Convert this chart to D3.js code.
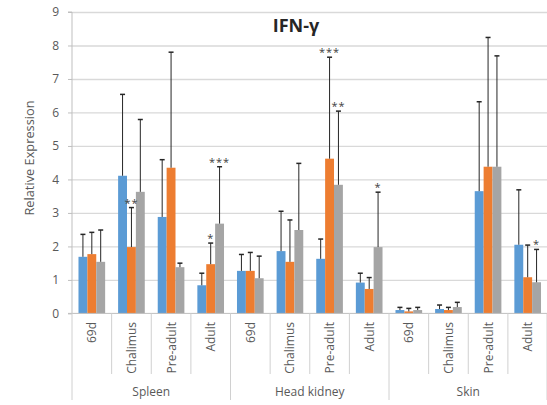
<!DOCTYPE html>
<html>
<head>
<meta charset="utf-8">
<script src="https://cdn.jsdelivr.net/npm/d3@7"></script>
<style>
  html, body { margin: 0; padding: 0; background: #fff; }
  svg { display: block; font-family: "Open Sans", "Liberation Sans", sans-serif; }
</style>
</head>
<body>
<svg id="chart" width="547" height="405"></svg>
<script>
// ---- data ----
const title = "IFN-γ";
const yTitle = "Relative Expression";
const groups = ["Spleen", "Head kidney", "Skin"];
const stages = ["69d", "Chalimus", "Pre-adult", "Adult"];
const yTicks = [0, 1, 2, 3, 4, 5, 6, 7, 8, 9];
const seriesNames = ["Series 1", "Series 2", "Series 3"];
const seriesColors = ["#5B9BD5", "#ED7D31", "#A5A5A5"];

const blueValues   = [1.69, 4.11, 2.88, 0.84, 1.27, 1.86, 1.63, 0.92, 0.10, 0.13, 3.65, 2.05];
const blueErrors   = [0.67, 2.43, 1.71, 0.36, 0.49, 1.19, 0.59, 0.28, 0.08, 0.12, 2.67, 1.64];
const orangeValues = [1.77, 1.98, 4.35, 1.47, 1.27, 1.54, 4.62, 0.73, 0.06, 0.10, 4.38, 1.08];
const orangeErrors = [0.65, 1.18, 3.45, 0.63, 0.55, 1.25, 3.03, 0.34, 0.09, 0.08, 3.86, 0.96];
const grayValues   = [1.54, 3.63, 1.38, 2.68, 1.05, 2.49, 3.84, 1.98, 0.10, 0.19, 4.38, 0.93];
const grayErrors   = [0.95, 2.16, 0.12, 1.70, 0.66, 1.99, 2.20, 1.64, 0.08, 0.14, 3.31, 0.98];

const blueSig   = ["", "", "", "", "", "", "", "", "", "", "", ""];
const orangeSig = ["", "**", "", "*", "", "", "***", "", "", "", "", ""];
const graySig   = ["", "", "", "***", "", "", "**", "*", "", "", "", "*"];

// ---- build ----
const categories = [];
groups.forEach(g => stages.forEach(s => categories.push({ group: g, stage: s })));
const series = [
  { name: seriesNames[0], color: seriesColors[0], values: blueValues, errors: blueErrors, sig: blueSig },
  { name: seriesNames[1], color: seriesColors[1], values: orangeValues, errors: orangeErrors, sig: orangeSig },
  { name: seriesNames[2], color: seriesColors[2], values: grayValues, errors: grayErrors, sig: graySig }
];

const svg = d3.select("#chart");
const pLeft = 72, pRight = 547.5, pTop = 12, pBottom = 313.4;

const y = d3.scaleLinear().domain([0, 9]).range([pBottom, pTop]);
const x = d3.scaleBand().domain(d3.range(categories.length)).range([pLeft, pRight]).padding(0);
const xs = d3.scaleBand().domain(d3.range(series.length)).range([0, x.bandwidth()]).paddingOuter(0.73).paddingInner(0);

// gridlines
svg.append("g")
  .attr("transform", `translate(${pLeft},0)`)
  .call(d3.axisLeft(y).tickValues(yTicks.slice(1)).tickSize(-(pRight - pLeft)).tickFormat(""))
  .call(g => g.select(".domain").remove())
  .call(g => g.selectAll("line").attr("stroke", "#d9d9d9").attr("stroke-width", 1.3));

// y axis
svg.append("g")
  .attr("transform", `translate(${pLeft},0)`)
  .call(d3.axisLeft(y).tickValues(yTicks).tickSize(4).tickPadding(9).tickFormat(d3.format("d")))
  .call(g => g.select(".domain").attr("stroke", "#bfbfbf").attr("d", `M-4,${pTop}H0V${pBottom}H-4`))
  .call(g => g.selectAll("line").attr("stroke", "#bfbfbf"))
  .call(g => g.selectAll("text").attr("fill", "#595959").style("font-size", "12px").style("font-family", "Open Sans, sans-serif"));

// bars
const barG = svg.append("g");
series.forEach((s, si) => {
  barG.selectAll(null).data(s.values).enter().append("rect")
    .attr("x", (d, i) => x(i) + xs(si))
    .attr("width", xs.bandwidth())
    .attr("y", d => y(d))
    .attr("height", d => y(0) - y(d))
    .attr("fill", s.color);
});

// error bars
series.forEach((s, si) => {
  const g = svg.append("g").attr("stroke", "#262626").attr("stroke-width", 1);
  s.values.forEach((v, i) => {
    const cx = x(i) + xs(si) + xs.bandwidth() / 2;
    const yt = y(v + s.errors[i]);
    g.append("line").attr("x1", cx).attr("x2", cx).attr("y1", y(v)).attr("y2", yt);
    g.append("line").attr("x1", cx - 2.5).attr("x2", cx + 2.5).attr("y1", yt).attr("y2", yt).attr("stroke-width", 1.5);
    if (s.sig[i]) {
      svg.append("text")
        .attr("x", cx).attr("y", yt - 1)
        .attr("text-anchor", "middle")
        .attr("fill", "#404040")
        .style("font-size", "11px")
        .style("letter-spacing", "1px")
        .text(s.sig[i]);
    }
  });
});

// x axis line
svg.append("line").attr("x1", pLeft).attr("x2", pRight).attr("y1", pBottom).attr("y2", pBottom)
  .attr("stroke", "#bfbfbf").attr("stroke-width", 1);

// category separators
const axisG = svg.append("g").attr("stroke", "#d0d0d0").attr("stroke-width", 1);
for (let i = 0; i <= categories.length; i++) {
  const xx = i < categories.length ? x(i) : pRight - 0.5;
  const isGroup = i % stages.length === 0;
  axisG.append("line").attr("x1", xx).attr("x2", xx).attr("y1", pBottom).attr("y2", isGroup ? 400 : 374);
}

// category labels
svg.append("g").selectAll("text").data(categories).enter().append("text")
  .attr("transform", (d, i) => `translate(${x(i) + x.bandwidth() / 2 + 4.5},322) rotate(-90)`)
  .attr("text-anchor", "end")
  .attr("fill", "#595959")
  .style("font-size", "12px")
  .text(d => d.stage);

// group labels
svg.append("g").selectAll("text").data(groups).enter().append("text")
  .attr("x", (d, gi) => (x(gi * stages.length) + (gi === groups.length - 1 ? pRight : x((gi + 1) * stages.length))) / 2)
  .attr("y", 396)
  .attr("text-anchor", "middle")
  .attr("fill", "#595959")
  .style("font-size", "12px")
  .text(d => d);

// titles
svg.append("text").attr("x", 296).attr("y", 32).attr("text-anchor", "middle")
  .attr("fill", "#262626").style("font-size", "18px").style("font-weight", "bold").text(title);

svg.append("text").attr("transform", `translate(34,158) rotate(-90)`).attr("text-anchor", "middle")
  .attr("fill", "#595959").style("font-size", "12.8px").text(yTitle);
</script>
</body>
</html>
